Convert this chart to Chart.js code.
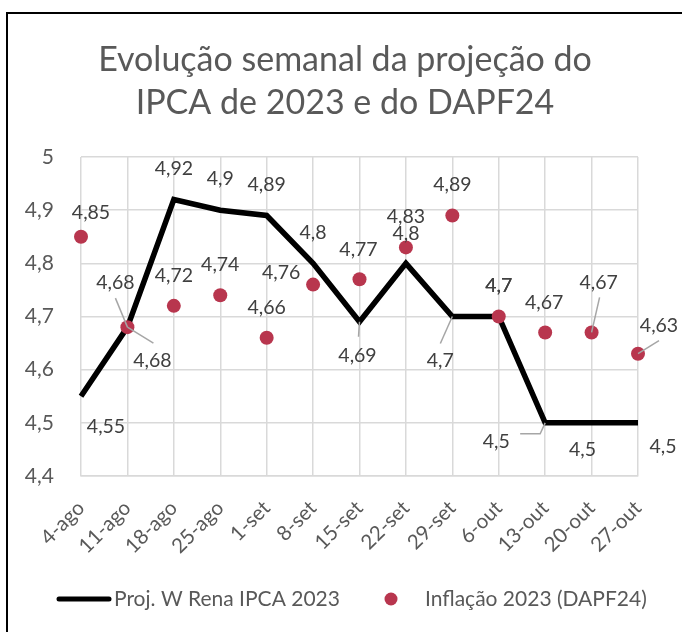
<!DOCTYPE html>
<html>
<head>
<meta charset="utf-8">
<script src="https://cdn.jsdelivr.net/npm/chart.js@4"></script>
<style>
  html, body { margin: 0; padding: 0; background: #fff; }
  #frame { position: absolute; left: 6px; top: 12px; width: 700px; height: 700px;
           border-left: 2px solid #000; border-top: 2px solid #000; }
  #chart { position: absolute; left: 0; top: 0; }
</style>
</head>
<body>
<div id="frame"></div>
<canvas id="chart" width="682" height="632"></canvas>
<script>
const weeks = ['4-ago', '11-ago', '18-ago', '25-ago', '1-set', '8-set', '15-set', '22-set', '29-set', '6-out', '13-out', '20-out', '27-out'];
const projWRena = [4.55, 4.68, 4.92, 4.9, 4.89, 4.8, 4.69, 4.8, 4.7, 4.7, 4.5, 4.5, 4.5];
const inflacaoDapf = [4.85, 4.68, 4.72, 4.74, 4.66, 4.76, 4.77, 4.83, 4.89, 4.7, 4.67, 4.67, 4.63];
const yTickLabels = ['4,4', '4,5', '4,6', '4,7', '4,8', '4,9', '5'];

// label placement (offset of label centre from the point) and leader lines, as moved by hand in the original
const projLabelOffsets = [[25, 30], [25, 34], [0, -31], [0, -31], [0, -31], [0, -31], [-2, 34], [0, -30], [-12, 44], [0, -31], [-49, 19], [-9, 27], [25, 24]];
const projLeaders = { 1: [[0, 0], [26, 16]], 6: [[0, 0], [-1, 15]], 8: [[0, 0], [-12, 27]], 10: [[0, 0], [-5, 11], [-25, 11]] };
const dapfLabelOffsets = [[10, -24], [-12, -44], [0, -30], [0, -31], [0, -30], [-32, -12], [-1, -30], [0, -31], [0, -31], [0, -31], [-1, -30], [7, -50], [21, -28]];
const dapfLeaders = { 1: [[-12, -29], [0, 0]], 11: [[0, 0], [8, -35]], 12: [[0, 0], [21, -13]] };

const FONT = 'Lato, "Open Sans", sans-serif';
const RED = '#b8364e';

function fmt(v) {
    return String(v).replace('.', ',');
}

const decorPlugin = {
    id: 'decor',
    afterDatasetsDraw(chart) {
        const ctx = chart.ctx;
        ctx.save();
        const sets = [
            { meta: chart.getDatasetMeta(0), values: projWRena, offs: projLabelOffsets, leaders: projLeaders },
            { meta: chart.getDatasetMeta(1), values: inflacaoDapf, offs: dapfLabelOffsets, leaders: dapfLeaders }
        ];
        // leader lines
        ctx.strokeStyle = '#a6a6a6';
        ctx.lineWidth = 1.5;
        sets.forEach(s => {
            Object.keys(s.leaders).forEach(k => {
                const el = s.meta.data[k];
                const pts = s.leaders[k];
                ctx.beginPath();
                pts.forEach((p, j) => {
                    if (j === 0) ctx.moveTo(el.x + p[0], el.y + p[1]);
                    else ctx.lineTo(el.x + p[0], el.y + p[1]);
                });
                ctx.stroke();
            });
        });
        // data labels
        ctx.font = '19.5px ' + FONT;
        ctx.fillStyle = '#404040';
        ctx.textAlign = 'center';
        ctx.textBaseline = 'middle';
        sets.forEach(s => {
            s.meta.data.forEach((el, i) => {
                ctx.fillText(fmt(s.values[i]), el.x + s.offs[i][0], el.y + s.offs[i][1]);
            });
        });

        // title
        ctx.font = '34px ' + FONT;
        ctx.fillStyle = '#595959';
        ctx.fillText('Evolução semanal da projeção do', 345, 60);
        ctx.fillText('IPCA de 2023 e do DAPF24', 345, 103);

        // legend
        ctx.strokeStyle = '#000';
        ctx.lineWidth = 5;
        ctx.lineCap = 'round';
        ctx.beginPath();
        ctx.moveTo(59, 599);
        ctx.lineTo(109, 599);
        ctx.stroke();
        ctx.fillStyle = RED;
        ctx.beginPath();
        ctx.arc(391, 599, 6.5, 0, Math.PI * 2);
        ctx.fill();
        ctx.font = '21px ' + FONT;
        ctx.fillStyle = '#595959';
        ctx.textAlign = 'left';
        ctx.fillText('Proj. W Rena IPCA 2023', 114, 599);
        ctx.fillText('Inflação 2023 (DAPF24)', 425, 599);
        ctx.restore();
    }
};

new Chart(document.getElementById('chart'), {
    type: 'line',
    data: {
        labels: weeks,
        datasets: [{
            label: 'Proj. W Rena IPCA 2023',
            data: projWRena,
            borderColor: '#000',
            borderWidth: 5.5,
            borderJoinStyle: 'miter',
            pointRadius: 0,
            tension: 0,
            order: 2
        }, {
            label: 'Inflação 2023 (DAPF24)',
            data: inflacaoDapf,
            showLine: false,
            pointRadius: 7,
            pointBackgroundColor: RED,
            pointBorderWidth: 0,
            order: 1
        }]
    },
    options: {
        responsive: false,
        animation: false,
        events: [],
        layout: { padding: { top: 157, right: 44, bottom: 0, left: 0 }, autoPadding: false },
        plugins: { legend: { display: false }, title: { display: false }, tooltip: { enabled: false } },
        scales: {
            x: {
                offset: false,
                grid: { color: '#d9d9d9', lineWidth: 1.5, drawTicks: false },
                border: { color: '#d9d9d9', width: 1.5 },
                ticks: {
                    autoSkip: false, minRotation: 45, maxRotation: 45, padding: 20,
                    color: '#595959', font: { family: FONT, size: 20.5 }
                },
                afterFit(scale) { scale.height = 632 - 476; }
            },
            y: {
                min: 4.4,
                max: 5,
                grid: { color: '#d9d9d9', lineWidth: 1.5, drawTicks: false },
                border: { display: false },
                ticks: {
                    stepSize: 0.1, padding: 27, color: '#595959', font: { family: FONT, size: 21 },
                    callback: (v, i) => yTickLabels[i]
                },
                afterFit(scale) { scale.width = 81; }
            }
        }
    },
    plugins: [decorPlugin]
});
</script>
</body>
</html>
